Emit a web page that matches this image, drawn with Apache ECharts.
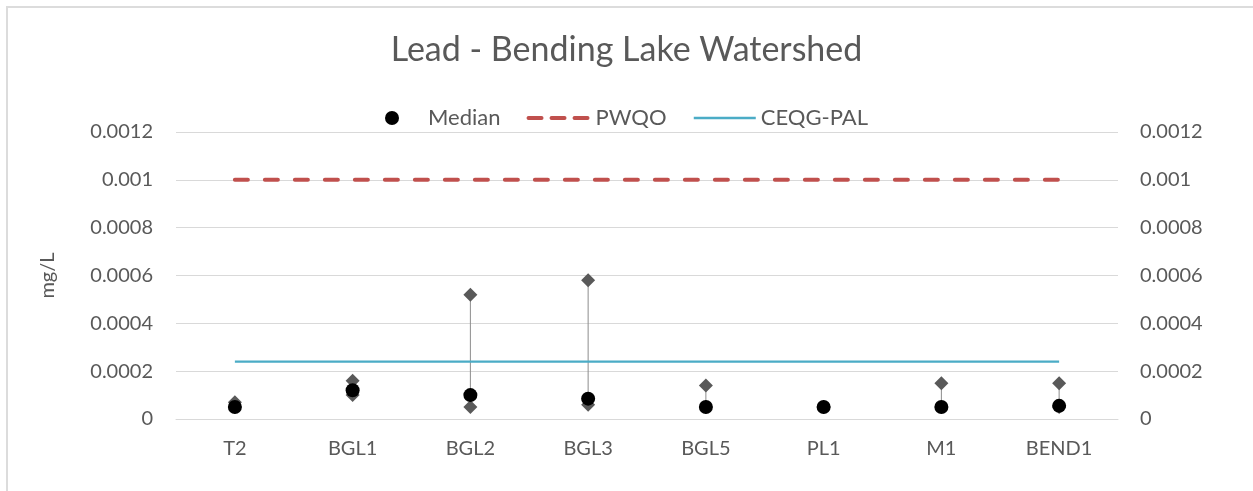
<!DOCTYPE html>
<html>
<head>
<meta charset="utf-8">
<script src="https://cdn.jsdelivr.net/npm/echarts@6/dist/echarts.min.js"></script>
<style>
  html, body { margin: 0; padding: 0; background: #fff; }
  #chart { position: absolute; left: 0; top: 0; width: 1253px; height: 491px; }
  #frame { position: absolute; left: 6px; top: 6px; width: 1260px; height: 500px; border: 2px solid #dcdcdc; pointer-events: none; }
</style>
</head>
<body>
<div id="chart"></div>
<div id="frame"></div>
<script>
const categories = ['T2', 'BGL1', 'BGL2', 'BGL3', 'BGL5', 'PL1', 'M1', 'BEND1'];
const medianValues = [0.00005, 0.00012, 0.0001, 0.000085, 0.00005, 0.00005, 0.00005, 0.000055];
const maxValues = [0.00007, 0.00016, 0.00052, 0.00058, 0.00014, 0.00005, 0.00015, 0.00015];
const minValues = [0.00005, 0.0001, 0.00005, 0.00006, 0.00005, 0.00005, 0.00005, 0.00005];
const pwqoValues = [0.001, 0.001, 0.001, 0.001, 0.001, 0.001, 0.001, 0.001];
const ceqgValues = [0.00024, 0.00024, 0.00024, 0.00024, 0.00024, 0.00024, 0.00024, 0.00024];
const yTicks = { min: 0, max: 0.0012, interval: 0.0002 };

const FONT = 'Lato';
const TXT = '#595959';
const fmt = v => String(+v.toFixed(5));

const rangeData = categories.map((c, i) => [i, minValues[i], maxValues[i]]);

const chart = echarts.init(document.getElementById('chart'));
chart.setOption({
  animation: false,
  textStyle: { fontFamily: FONT },
  title: {
    text: 'Lead - Bending Lake Watershed',
    left: 'center', top: 28,
    textStyle: { fontFamily: FONT, fontSize: 34, fontWeight: 'normal', color: TXT }
  },
  legend: {
    top: 102, left: 'center',
    itemWidth: 62, itemHeight: 14, itemGap: 26,
    data: [
      { name: 'Median' },
      { name: 'PWQO', itemStyle: { opacity: 0 }, lineStyle: { width: 4, type: [13, 10], cap: 'round' } },
      { name: 'CEQG-PAL', itemStyle: { opacity: 0 }, lineStyle: { width: 2.5 } }
    ],
    textStyle: { fontFamily: FONT, fontSize: 22, color: TXT }
  },
  grid: { left: 176, right: 135, top: 132, bottom: 72 },
  xAxis: {
    type: 'category',
    data: categories,
    boundaryGap: true,
    axisLine: { show: true, lineStyle: { color: '#d9d9d9', width: 1 } },
    axisTick: { show: false },
    axisLabel: { fontFamily: FONT, fontSize: 20, color: TXT, margin: 20 }
  },
  yAxis: [
    {
      type: 'value', min: yTicks.min, max: yTicks.max, interval: yTicks.interval,
      name: 'mg/L', nameLocation: 'middle', nameGap: 118, nameRotate: 90,
      nameTextStyle: { fontFamily: FONT, fontSize: 20, color: TXT },
      axisLine: { show: false }, axisTick: { show: false },
      splitLine: { lineStyle: { color: '#d9d9d9', width: 1 } },
      axisLabel: { fontFamily: FONT, fontSize: 20, color: TXT, margin: 23, formatter: fmt }
    },
    {
      type: 'value', min: yTicks.min, max: yTicks.max, interval: yTicks.interval,
      position: 'right',
      axisLine: { show: false }, axisTick: { show: false },
      splitLine: { show: false },
      axisLabel: { fontFamily: FONT, fontSize: 20, color: TXT, margin: 22, formatter: fmt }
    }
  ],
  series: [
    {
      name: 'Range',
      type: 'custom',
      z: 1,
      data: rangeData,
      encode: { x: 0, y: [1, 2] },
      renderItem: function (params, api) {
        const p1 = api.coord([api.value(0), api.value(1)]);
        const p2 = api.coord([api.value(0), api.value(2)]);
        return {
          type: 'line',
          shape: { x1: p1[0], y1: p1[1], x2: p2[0], y2: p2[1] },
          style: { stroke: '#8c8c8c', lineWidth: 1 }
        };
      }
    },
    {
      name: 'PWQO', type: 'line', data: pwqoValues, symbol: 'none', z: 2,
      lineStyle: { color: '#c0504d', width: 4, type: [13, 17], cap: 'round' },
      itemStyle: { color: '#c0504d' }
    },
    {
      name: 'CEQG-PAL', type: 'line', data: ceqgValues, symbol: 'none', z: 2,
      lineStyle: { color: '#4bacc6', width: 2.25 },
      itemStyle: { color: '#4bacc6' }
    },
    {
      name: 'Max', type: 'scatter', data: maxValues, symbol: 'diamond', symbolSize: 14, z: 3,
      itemStyle: { color: '#595959', opacity: 1 }
    },
    {
      name: 'Min', type: 'scatter', data: minValues, symbol: 'diamond', symbolSize: 14, z: 3,
      itemStyle: { color: '#595959', opacity: 1 }
    },
    {
      name: 'Median', type: 'scatter', data: medianValues, symbol: 'circle', symbolSize: 14, z: 4,
      itemStyle: { color: '#000000', opacity: 1 }
    }
  ]
});
</script>
</body>
</html>
